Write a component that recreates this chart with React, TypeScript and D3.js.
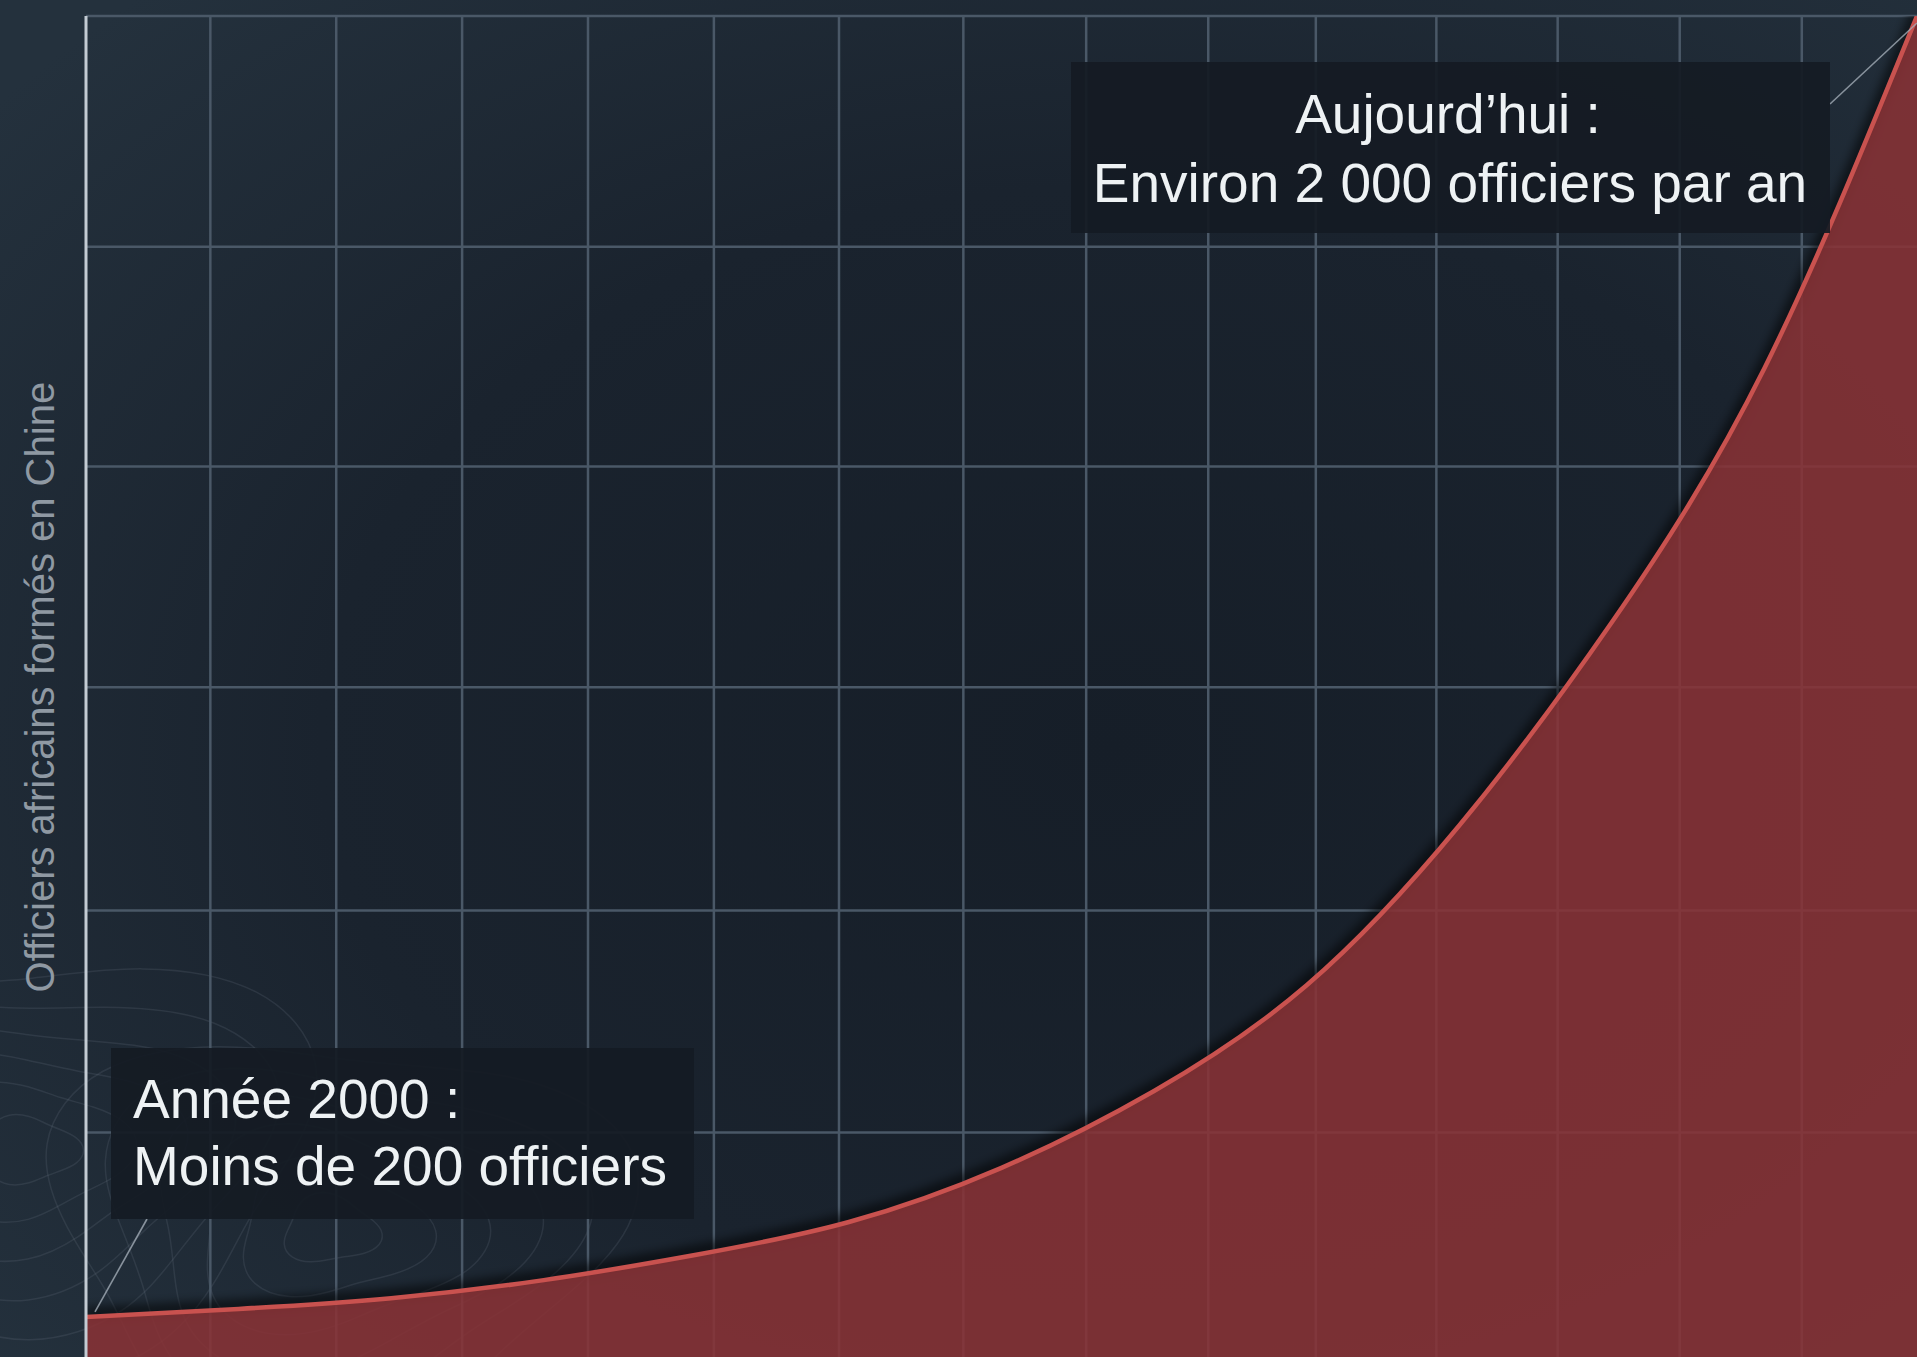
import React from "react";
import * as d3 from "d3";

// ---- data ----
const YEARS = [2000, 2002, 2004, 2006, 2008, 2010, 2012, 2014, 2016, 2018, 2020, 2022, 2024];
const OFFICERS = [54, 66, 82, 109, 147, 196, 277, 392, 550, 789, 1093, 1473, 2000];
// vertical grid positions (in years) and horizontal grid positions (in officers)
const X_GRID = [2001.63, 2003.28, 2004.93, 2006.58, 2008.23, 2009.87, 2011.5, 2013.11, 2014.71, 2016.12, 2017.7, 2019.29, 2020.89, 2022.49];
const Y_GRID = [330, 662, 996, 1326, 1655, 2000];

const Y_LABEL = "Officiers africains formés en Chine";
const NOTE_START = ["Année 2000 :", "Moins de 200 officiers"];
const NOTE_END = ["Aujourd\u2019hui :", "Environ 2 000 officiers par an"];

const W = 1917;
const H = 1357;
const FONT = "'Liberation Sans', Arial, 'DejaVu Sans', sans-serif";

export default function App() {
  const x = d3.scaleLinear().domain([2000, 2024]).range([86, 1917]);
  const y = d3.scaleLinear().domain([0, 2000]).range([1353, 16]);
  const pts = YEARS.map((yr, i) => ({ yr, v: OFFICERS[i] }));

  const area = d3
    .area<{ yr: number; v: number }>()
    .x((d) => x(d.yr))
    .y0(y(0) + 4)
    .y1((d) => y(d.v))
    .curve(d3.curveNatural)(pts) as string;
  const line = d3
    .line<{ yr: number; v: number }>()
    .x((d) => x(d.yr))
    .y((d) => y(d.v))
    .curve(d3.curveNatural)(pts) as string;

  // decorative topographic contours (bottom-left background)
  const contour = d3.line<[number, number]>().curve(d3.curveBasisClosed);
  const rings: string[] = [];
  const centres: [number, number, number][] = [
    [330, 1230, 0.3],
    [30, 1150, 1.1],
  ];
  centres.forEach(([cx, cy, ph]) => {
    for (let r = 1; r <= 6; r++) {
      const p: [number, number][] = d3.range(0, 16).map((k) => {
        const a = (k / 16) * Math.PI * 2;
        const wob = 1 + 0.18 * Math.sin(a * 3 + ph + r * 0.4);
        return [cx + Math.cos(a) * r * 48 * wob, cy + Math.sin(a) * r * 34 * wob];
      });
      rings.push(contour(p) as string);
    }
  });

  const x0 = x(2000);
  const yTop = y(2000);

  return (
    <div>
      <style>{`body{margin:0;background:#1c2631;} svg{display:block}`}</style>
      <svg width={W} height={H} viewBox={`0 0 ${W} ${H}`}>
        <defs>
          <radialGradient id="bg" cx="58%" cy="55%" r="75%">
            <stop offset="0%" stopColor="#161e28" />
            <stop offset="55%" stopColor="#1a232e" />
            <stop offset="100%" stopColor="#24313d" />
          </radialGradient>
          <filter id="shadow" x="-5%" y="-5%" width="110%" height="110%">
            <feGaussianBlur stdDeviation="5" />
          </filter>
          <clipPath id="plot">
            <rect x={x0} y={yTop} width={W - x0} height={H - yTop} />
          </clipPath>
        </defs>

        <rect x={0} y={0} width={W} height={H} fill="url(#bg)" />

        {/* contours */}
        <g fill="none" stroke="#6d7a86" strokeOpacity={0.2} strokeWidth={1.5}>
          {rings.map((d, i) => (
            <path key={i} d={d} />
          ))}
        </g>

        {/* grid */}
        <g stroke="#4a5867" strokeWidth={2.5}>
          {X_GRID.map((g) => (
            <line key={"x" + g} x1={x(g)} x2={x(g)} y1={yTop} y2={H} />
          ))}
          {Y_GRID.map((g) => (
            <line key={"y" + g} x1={x0} x2={W} y1={y(g)} y2={y(g)} />
          ))}
        </g>

        {/* area + curve */}
        <g clipPath="url(#plot)">
          <path d={line} fill="none" stroke="#000" strokeOpacity={0.55} strokeWidth={14} filter="url(#shadow)" transform="translate(0,-3)" />
          <path d={area} fill="rgb(139,50,54)" fillOpacity={0.86} />
          <path d={line} fill="none" stroke="#c9524f" strokeWidth={4.5} />
        </g>

        {/* left axis */}
        <line x1={x0} x2={x0} y1={yTop} y2={H} stroke="#c3cbd3" strokeWidth={3} />

        {/* y label */}
        <text
          transform={`translate(54,${y(996)}) rotate(-90)`}
          textAnchor="middle"
          fontFamily={FONT}
          fontSize={40}
          fill="#8f99a3"
        >
          {Y_LABEL}
        </text>

        {/* leader lines */}
        <g stroke="#a3adb6" strokeWidth={1.6} strokeOpacity={0.8}>
          <line x1={x(2000) + 9} y1={y(OFFICERS[0]) - 5} x2={147} y2={1219} />
          <line x1={1830} y1={104} x2={1917} y2={23} />
        </g>

        {/* annotation: start */}
        <rect x={111} y={1048} width={583} height={171} fill="#141b23" fillOpacity={0.93} />
        <text fontFamily={FONT} fontSize={55} fill="#eef2f4">
          <tspan x={133} y={1118}>{NOTE_START[0]}</tspan>
          <tspan x={133} y={1185}>{NOTE_START[1]}</tspan>
        </text>

        {/* annotation: today */}
        <rect x={1071} y={62} width={759} height={171} fill="#141b23" fillOpacity={0.93} />
        <text fontFamily={FONT} fontSize={55} fill="#eef2f4" textAnchor="middle">
          <tspan x={1448} y={133}>{NOTE_END[0]}</tspan>
          <tspan x={1450} y={202}>{NOTE_END[1]}</tspan>
        </text>
      </svg>
    </div>
  );
}
